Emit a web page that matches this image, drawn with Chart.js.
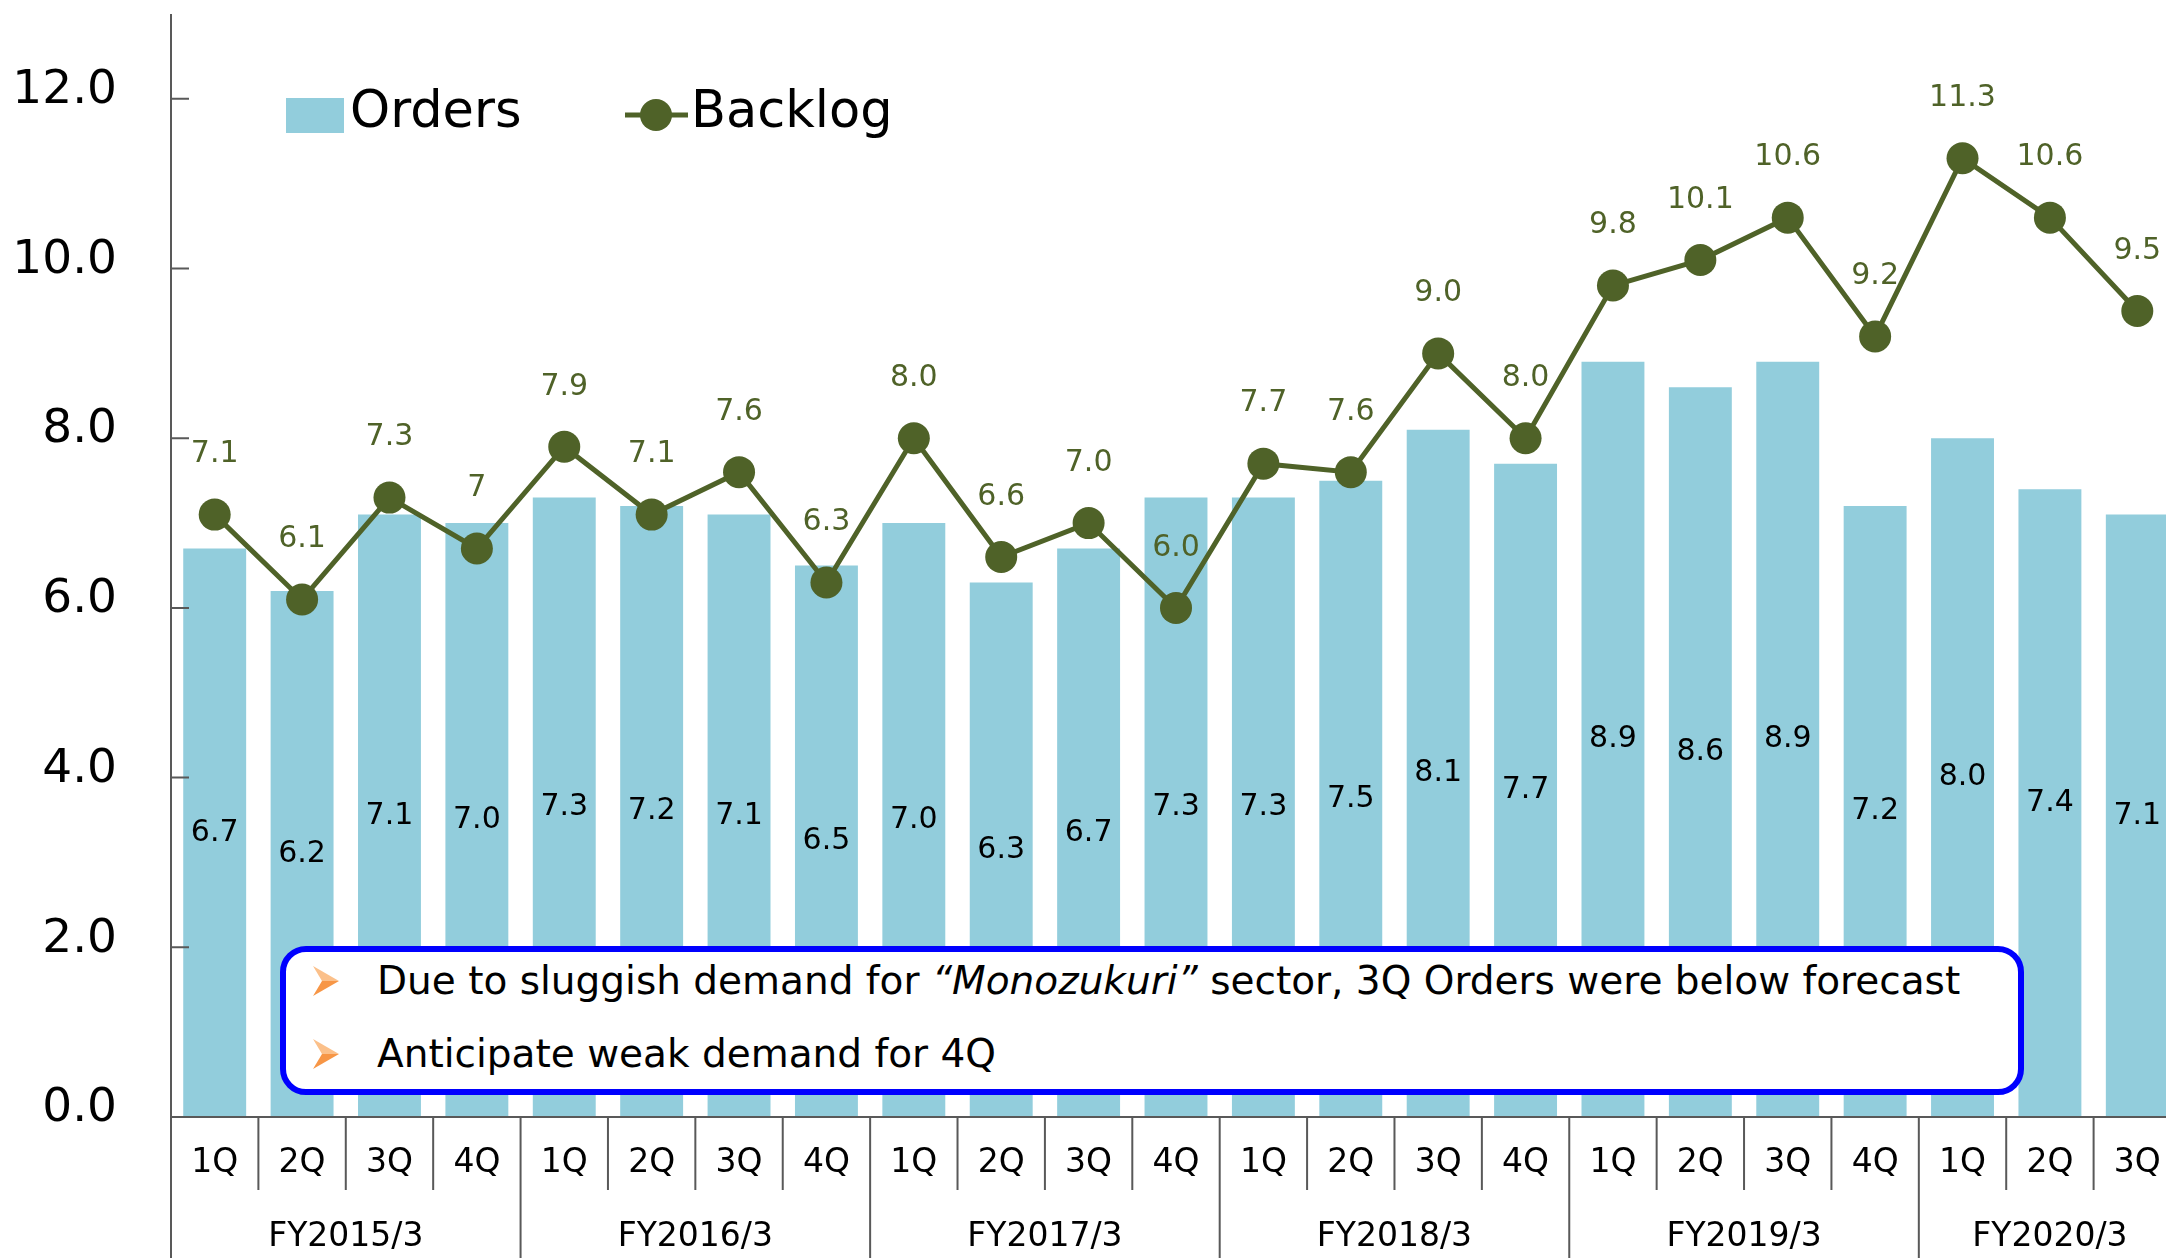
<!DOCTYPE html>
<html lang="en">
<head>
<meta charset="utf-8">
<script src="https://cdn.jsdelivr.net/npm/chart.js@4.4.1/dist/chart.umd.min.js"></script>
<style>
  html, body { margin: 0; padding: 0; background: #fff; overflow: hidden; }
  .stage { position: relative; width: 2181px; height: 1258px; }
  #chart { position: absolute; left: 0; top: 0; }
  .note {
    position: absolute; left: 280px; top: 946px; width: 1744px; height: 149px;
    box-sizing: border-box; border: 6px solid #0000ff; border-radius: 26px; background: #fff;
    font-family: 'DejaVu Sans', Verdana, sans-serif; font-size: 39px; color: #000;
  }
  .note .row { position: absolute; left: 0; height: 46px; line-height: 46px; white-space: nowrap; }
  .note .mark { position: absolute; left: 27px; top: 8px; width: 26px; height: 30px; }
  .note .txt { position: absolute; left: 91px; }
</style>
</head>
<body>
<div class="stage">
  <canvas id="chart" width="2181" height="1258"></canvas>
  <div class="note">
    <div class="row" style="top:6px">
      <svg class="mark" viewBox="0 0 26 30"><polygon points="0,0 26,15 9,15" fill="#fbc08a"/><polygon points="0,30 26,15 9,15" fill="#f79646"/></svg>
      <span class="txt">Due to sluggish demand for <i>“Monozukuri”</i> sector, 3Q Orders were below forecast</span>
    </div>
    <div class="row" style="top:79px">
      <svg class="mark" viewBox="0 0 26 30"><polygon points="0,0 26,15 9,15" fill="#fbc08a"/><polygon points="0,30 26,15 9,15" fill="#f79646"/></svg>
      <span class="txt">Anticipate weak demand for 4Q</span>
    </div>
  </div>
</div>

<script>
  // data
  const quarters = ['1Q','2Q','3Q','4Q', '1Q','2Q','3Q','4Q', '1Q','2Q','3Q','4Q',
                    '1Q','2Q','3Q','4Q', '1Q','2Q','3Q','4Q', '1Q','2Q','3Q'];
  const years = ['FY2015/3','FY2016/3','FY2017/3','FY2018/3','FY2019/3','FY2020/3'];
  const orders = [6.7,6.2,7.1,7.0, 7.3,7.2,7.1,6.5, 7.0,6.3,6.7,7.3,
                  7.3,7.5,8.1,7.7, 8.9,8.6,8.9,7.2, 8.0,7.4,7.1];
  const backlog = [7.1,6.1,7.3,6.7, 7.9,7.1,7.6,6.3, 8.0,6.6,7.0,6.0,
                   7.7,7.6,9.0,8.0, 9.8,10.1,10.6,9.2, 11.3,10.6,9.5];
  const backlogText = ['7.1','6.1','7.3','7', '7.9','7.1','7.6','6.3', '8.0','6.6','7.0','6.0',
                       '7.7','7.6','9.0','8.0', '9.8','10.1','10.6','9.2', '11.3','10.6','9.5'];

  const FONT = "'DejaVu Sans', Verdana, sans-serif";
  const BAR = '#92cddc';
  const LINE = '#4f6228';
  const AXIS = '#595959';
  Chart.defaults.font.family = FONT;

  const decor = {
    id: 'decor',
    afterDatasetsDraw(chart) {
      const ctx = chart.ctx;
      ctx.save();
      ctx.textAlign = 'center';
      ctx.textBaseline = 'middle';
      ctx.font = '30px ' + FONT;
      // order values in the middle of each bar
      ctx.fillStyle = '#000';
      chart.getDatasetMeta(1).data.forEach((el, i) => {
        ctx.fillText(orders[i].toFixed(1), el.x, (el.y + el.base) / 2);
      });
      // backlog values above the points
      ctx.fillStyle = LINE;
      chart.getDatasetMeta(0).data.forEach((el, i) => {
        ctx.fillText(backlogText[i], el.x, el.y - 60);
      });
      ctx.restore();
    },
    afterDraw(chart) {
      const ctx = chart.ctx;
      const area = chart.chartArea;
      const x = chart.scales.x, y = chart.scales.y;
      const w = x.getPixelForValue(1) - x.getPixelForValue(0);
      ctx.save();
      ctx.strokeStyle = AXIS;
      ctx.lineWidth = 2;
      ctx.beginPath();
      // value axis and base line
      ctx.moveTo(area.left, area.top); ctx.lineTo(area.left, chart.height);
      ctx.moveTo(area.left, area.bottom); ctx.lineTo(area.right, area.bottom);
      // inner tick marks
      y.ticks.forEach(t => {
        const py = y.getPixelForValue(t.value);
        ctx.moveTo(area.left, py); ctx.lineTo(area.left + 18, py);
      });
      // quarter / year separators
      for (let k = 1; k <= quarters.length; k++) {
        const px = x.getPixelForValue(k) - w / 2;
        ctx.moveTo(px, area.bottom);
        ctx.lineTo(px, k % 4 === 0 ? chart.height : area.bottom + 73);
      }
      ctx.stroke();

      // fiscal year labels
      ctx.fillStyle = '#000';
      ctx.font = '33px ' + FONT;
      ctx.textAlign = 'center';
      ctx.textBaseline = 'middle';
      years.forEach((yr, g) => {
        const first = g * 4;
        const last = Math.min(first + 3, quarters.length - 1);
        const cx = (x.getPixelForValue(first) + x.getPixelForValue(last)) / 2;
        ctx.fillText(yr, cx, 1237);
      });

      // legend
      const ds = chart.data.datasets;
      ctx.font = '51px ' + FONT;
      ctx.textAlign = 'left';
      ctx.textBaseline = 'alphabetic';
      ctx.fillStyle = ds[1].backgroundColor;
      ctx.fillRect(286, 98, 58, 35);
      ctx.fillStyle = '#000';
      ctx.fillText(ds[1].label, 350, 127);
      ctx.strokeStyle = LINE;
      ctx.lineWidth = 5;
      ctx.beginPath();
      ctx.moveTo(625, 115); ctx.lineTo(688, 115);
      ctx.stroke();
      ctx.fillStyle = LINE;
      ctx.beginPath();
      ctx.arc(656, 115, 16, 0, Math.PI * 2);
      ctx.fill();
      ctx.fillStyle = '#000';
      ctx.fillText(ds[0].label, 691, 127);
      ctx.restore();
    }
  };

  function noPad(s) {
    s.paddingTop = 0; s.paddingBottom = 0; s.paddingLeft = 0; s.paddingRight = 0;
  }

  new Chart(document.getElementById('chart'), {
    data: {
      labels: quarters,
      datasets: [
        {
          type: 'line',
          label: 'Backlog',
          data: backlog,
          borderColor: LINE,
          backgroundColor: LINE,
          borderWidth: 5,
          pointRadius: 16,
          pointBackgroundColor: LINE,
          pointBorderWidth: 0,
          tension: 0,
          order: 0
        },
        {
          type: 'bar',
          label: 'Orders',
          data: orders,
          backgroundColor: BAR,
          borderWidth: 0,
          barPercentage: 0.72,
          categoryPercentage: 1,
          order: 1
        }
      ]
    },
    options: {
      responsive: false,
      animation: false,
      layout: { autoPadding: false, padding: { top: 14, left: 0, right: 0, bottom: 0 } },
      plugins: {
        legend: { display: false },
        tooltip: { enabled: false }
      },
      scales: {
        x: {
          offset: true,
          grid: { display: false, drawTicks: false },
          border: { display: false },
          ticks: { color: '#000', font: { size: 33 }, padding: 27, maxRotation: 0, autoSkip: false },
          afterFit(s) { s.height = 141; noPad(s); }
        },
        y: {
          min: 0,
          max: 13,
          grid: { display: false, drawTicks: false },
          border: { display: false },
          ticks: {
            stepSize: 2,
            color: '#000',
            font: { size: 47 },
            padding: 54,
            labelOffset: -8,
            callback: v => v.toFixed(1)
          },
          afterBuildTicks(s) { s.ticks = s.ticks.filter(t => t.value <= 12); },
          afterFit(s) { s.width = 171; noPad(s); }
        }
      }
    },
    plugins: [decor]
  });
</script>
</body>
</html>
